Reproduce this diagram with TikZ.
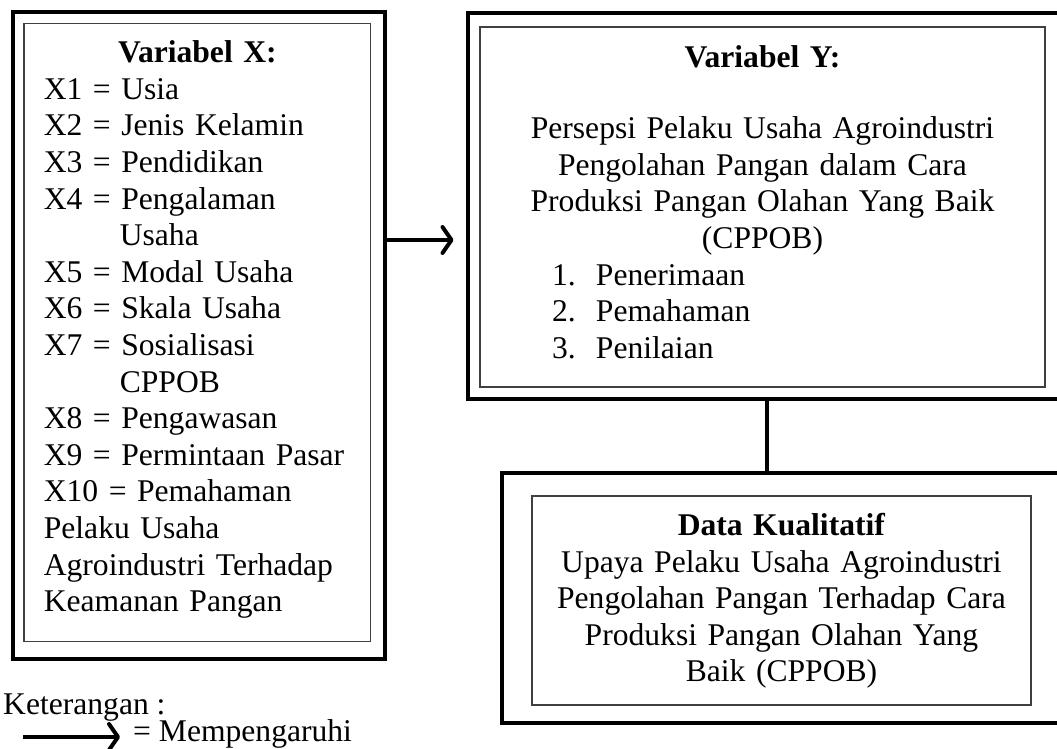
\documentclass[tikz,border=0pt]{standalone}
\usepackage{fontspec}
\setmainfont{Liberation Serif}
\usetikzlibrary{arrows.meta, positioning}

\begin{document}
\begin{tikzpicture}[x=1pt, y=-1pt,
    font=\fontsize{31.6pt}{36.6pt}\selectfont,
    outer/.style={draw, line width=4pt, inner sep=0pt},
    inbox/.style={draw=black!75, line width=1.3pt, inner sep=0pt},
    isi/.style={inner sep=0pt},
    arr/.style={line width=4pt, -{Straight Barb[length=9pt,width=26pt,round]}},
    link/.style={line width=4pt}]
  \useasboundingbox (0,0) rectangle (1057,749);

  % kotak variabel X
  \node[outer, minimum width=372.5pt, minimum height=646pt] (xbox) at (198.75,335.5) {};
  \node[inbox, minimum width=346.7pt, minimum height=618.4pt] (xin) at (197.35,332.5) {};
  \node[isi, below=18pt of xin.north, text width=307pt, align=left] (xtext) {
    \makebox[307pt]{\textbf{Variabel X:}}\\
    X1 = Usia\\
    X2 = Jenis Kelamin\\
    X3 = Pendidikan\\
    X4 = Pengalaman\\
    \hspace*{76pt}Usaha\\
    X5 = Modal Usaha\\
    X6 = Skala Usaha\\
    X7 = Sosialisasi\\
    \hspace*{76pt}CPPOB\\
    X8 = Pengawasan\\
    X9 = Permintaan Pasar\\
    X10 = Pemahaman\\
    Pelaku Usaha\\
    Agroindustri Terhadap\\
    Keamanan Pangan};

  % kotak variabel Y
  \node[outer, minimum width=612.5pt, minimum height=385.5pt] (ybox) at (773.75,205.75) {};
  \node[inbox, minimum width=565pt, minimum height=360pt] (yin) at (762.5,207) {};
  \node[isi, below=18.6pt of yin.north, text width=525pt, align=center] (ytext) {
    \textbf{Variabel Y:}\\[35pt]
    Persepsi Pelaku Usaha Agroindustri\\
    Pengolahan Pangan dalam Cara\\
    Produksi Pangan Olahan Yang Baik\\
    (CPPOB)\\
    \makebox[525pt][l]{\hspace*{52pt}\makebox[44pt][l]{1.}Penerimaan}\\
    \makebox[525pt][l]{\hspace*{52pt}\makebox[44pt][l]{2.}Pemahaman}\\
    \makebox[525pt][l]{\hspace*{52pt}\makebox[44pt][l]{3.}Penilaian}};

  % kotak data kualitatif
  \node[outer, minimum width=578pt, minimum height=250pt] (dbox) at (791,598) {};
  \node[inbox, minimum width=499pt, minimum height=209pt] (din) at (781.5,600.5) {};
  \node[isi, below=17.6pt of din.north, text width=480pt, align=center] (dtext) {
    \textbf{Data Kualitatif}\\
    Upaya Pelaku Usaha Agroindustri\\
    Pengolahan Pangan Terhadap Cara\\
    Produksi Pangan Olahan Yang\\
    Baik (CPPOB)};

  % penghubung
  \coordinate (linkx) at (767,0);
  \draw[arr, shorten >=12pt] (xbox.east |- 0,240) -- (ybox.west |- 0,240);
  \draw[link] (linkx |- ybox.south) -- (linkx |- dbox.north);

  % keterangan
  \node[isi, anchor=base west] (ket) at (3,714) {Keterangan :};
  \node[isi, anchor=base west] (mem) at (133,741.5) {= Mempengaruhi};
  \coordinate (legstart) at (23,737);
  \draw[arr, shorten >=13pt] (legstart) -- (legstart -| mem.west);
\end{tikzpicture}
\end{document}
